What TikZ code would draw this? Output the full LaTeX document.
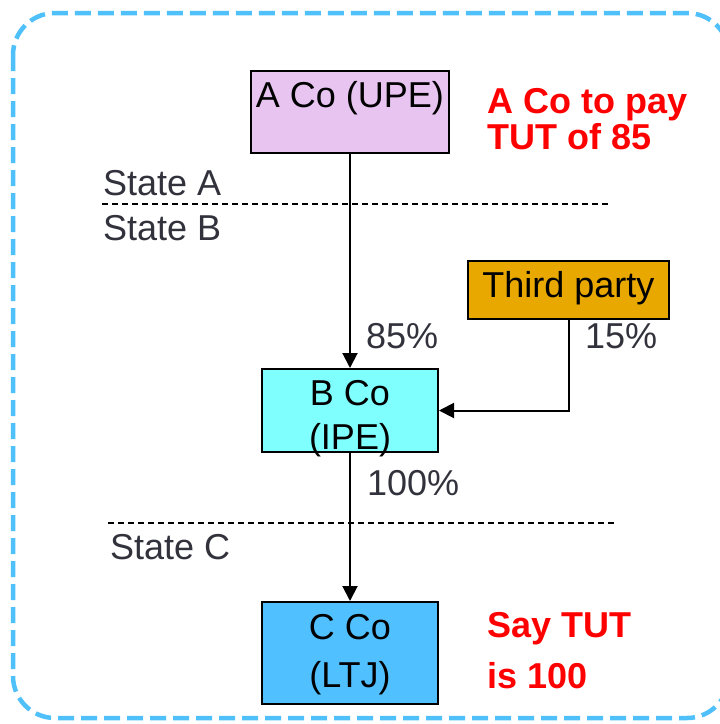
\documentclass[tikz,border=0pt]{standalone}
\usepackage{fontspec}
\setmainfont{Liberation Sans}
\usetikzlibrary{arrows.meta}
\definecolor{frameblue}{RGB}{80,192,250}
\definecolor{apurple}{RGB}{232,196,240}
\definecolor{bcyan}{RGB}{128,255,255}
\definecolor{cblue}{RGB}{80,192,255}
\definecolor{tporange}{RGB}{232,168,0}
\definecolor{statetext}{RGB}{50,50,60}
\definecolor{redtext}{RGB}{255,0,0}
\begin{document}
\begin{tikzpicture}[x=1pt,y=-1pt,
  box/.style={draw=black,line width=2pt,rectangle,inner sep=0pt},
  lbl/.style={font=\fontsize{36}{40}\selectfont,inner sep=0pt,anchor=base},
  lblw/.style={lbl,anchor=base west},
  grey/.style={text=statetext},
  note/.style={lblw,text=redtext,font=\fontsize{36}{40}\selectfont\bfseries},
  conn/.style={line width=2pt,-{Triangle[width=15pt,length=15pt]}},
  sep/.style={line width=1.5pt,dash pattern=on 6pt off 4pt}]
\useasboundingbox (0,0) rectangle (720,724);
\begin{scope}
\clip (0,0) rectangle (720,724);
\draw[frameblue,line width=4.5pt,dash pattern=on 16pt off 7pt,rounded corners=42pt] (13,13) rectangle (729,718);
\end{scope}
% boxes
\node[box,fill=apurple,minimum width=198pt,minimum height=82pt] (A) at (350,112) {};
\node[box,fill=tporange,minimum width=201pt,minimum height=58pt] (TP) at (568.5,290) {};
\node[box,fill=bcyan,minimum width=176pt,minimum height=83pt] (B) at (350,410.5) {};
\node[box,fill=cblue,minimum width=176pt,minimum height=102pt] (C) at (350,653) {};
% box texts
\node[lbl] (Atext) at (350,107) {A Co (UPE)};
\node[lbl] (TPtext) at (568.5,297) {Third party};
\node[lbl] (Btext1) at (350,405) {B Co};
\node[lbl] (Btext2) at (350,449) {(IPE)};
\node[lbl] (Ctext1) at (350,639) {C Co};
\node[lbl] (Ctext2) at (350,687) {(LTJ)};
% notes
\node[note] (n1) at (487,113) {A Co to pay};
\node[note] (n2) at (487,149) {TUT of 85};
\node[note] (n3) at (487,637) {Say TUT};
\node[note] (n4) at (487,688) {is 100};
% states
\node[lblw,grey] (sA) at (103,195) {State A};
\node[lblw,grey] (sB) at (103,240) {State B};
\node[lblw,grey] (sC) at (110,559) {State C};
\coordinate (d1a) at (102,204);
\coordinate (d1b) at (610,204);
\coordinate (d2a) at (108,523);
\coordinate (d2b) at (615,523);
\draw[sep] (d1a) -- (d1b);
\draw[sep] (d2a) -- (d2b);
% percentages
\node[lblw,grey] (p85) at (366,348) {85\%};
\node[lblw,grey] (p15) at (585,348) {15\%};
\node[lblw,grey] (p100) at (367,495) {100\%};
% connectors
\draw[conn] (A.south) -- (B.north);
\draw[conn] (TP.south) |- (B.east);
\draw[conn] (B.south) -- (C.north);
\end{tikzpicture}
\end{document}
